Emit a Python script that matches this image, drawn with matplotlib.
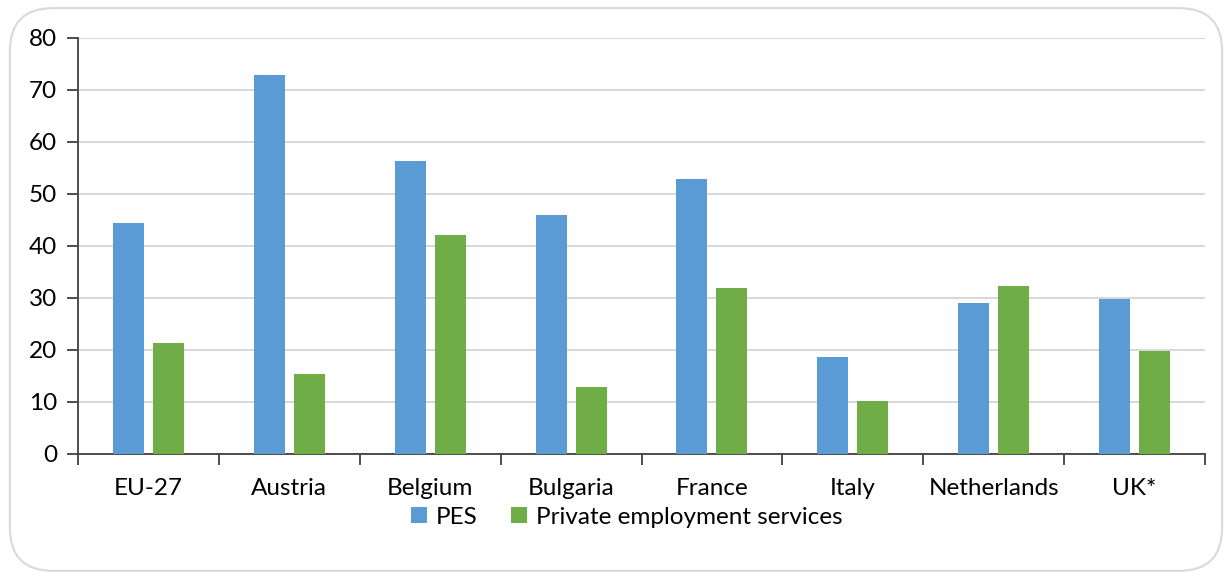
import matplotlib
matplotlib.use("Agg")
import matplotlib.pyplot as plt
import numpy as np
from matplotlib.patches import FancyBboxPatch

# data
countries = ["EU-27", "Austria", "Belgium", "Bulgaria", "France", "Italy", "Netherlands", "UK*"]
pes = [44.4, 72.9, 56.3, 46.0, 52.9, 18.7, 29.1, 29.9]
private = [21.3, 15.4, 42.2, 12.9, 31.9, 10.1, 32.3, 19.9]

plt.rcParams["font.family"] = ["Lato", "DejaVu Sans"]

fig = plt.figure(figsize=(12.32, 5.79), dpi=100)

# rounded chart border
border = FancyBboxPatch((0.008, 0.014), 0.984, 0.972,
                        boxstyle="round,pad=0,rounding_size=0.035",
                        transform=fig.transFigure, fill=False,
                        edgecolor="#D9D9D9", linewidth=1.5, mutation_aspect=1232 / 579)
fig.patches.append(border)

ax = fig.add_axes([0.0633, 0.2159, 0.9148, 0.7185])

x = np.arange(len(countries))
w = 0.22
off = 0.142
ax.bar(x - off, pes, w, color="#5B9BD5", label="PES", zorder=3)
ax.bar(x + off, private, w, color="#70AD47", label="Private employment services", zorder=3)

ax.set_xlim(-0.5, len(countries) - 0.5)
ax.set_ylim(0, 80)
ax.set_yticks(range(0, 81, 10))
ax.yaxis.grid(True, color="#D9D9D9", linewidth=1.5, zorder=0)

# category boundary ticks, labels at centres
ax.set_xticks(np.arange(-0.5, len(countries)), minor=False)
ax.set_xticklabels([])
ax.set_xticks(x, minor=True)
ax.set_xticklabels(countries, minor=True)
ax.tick_params(axis="x", which="major", direction="out", length=8, width=1.3, color="#404040")
ax.tick_params(axis="x", which="minor", length=0, pad=17, labelsize=17.5)
ax.tick_params(axis="y", direction="out", length=8, width=1.3, color="#404040", labelsize=17.5, pad=7)

for s in ["top", "right"]:
    ax.spines[s].set_visible(False)
for s in ["left", "bottom"]:
    ax.spines[s].set_color("#404040")
    ax.spines[s].set_linewidth(1.3)

ax.legend(loc="center", bbox_to_anchor=(0.487, -0.152), ncol=2, frameon=False,
          fontsize=17.5, handlelength=0.65, handleheight=0.65, handletextpad=0.35,
          columnspacing=1.4)

fig.savefig("out.png", dpi=100)
